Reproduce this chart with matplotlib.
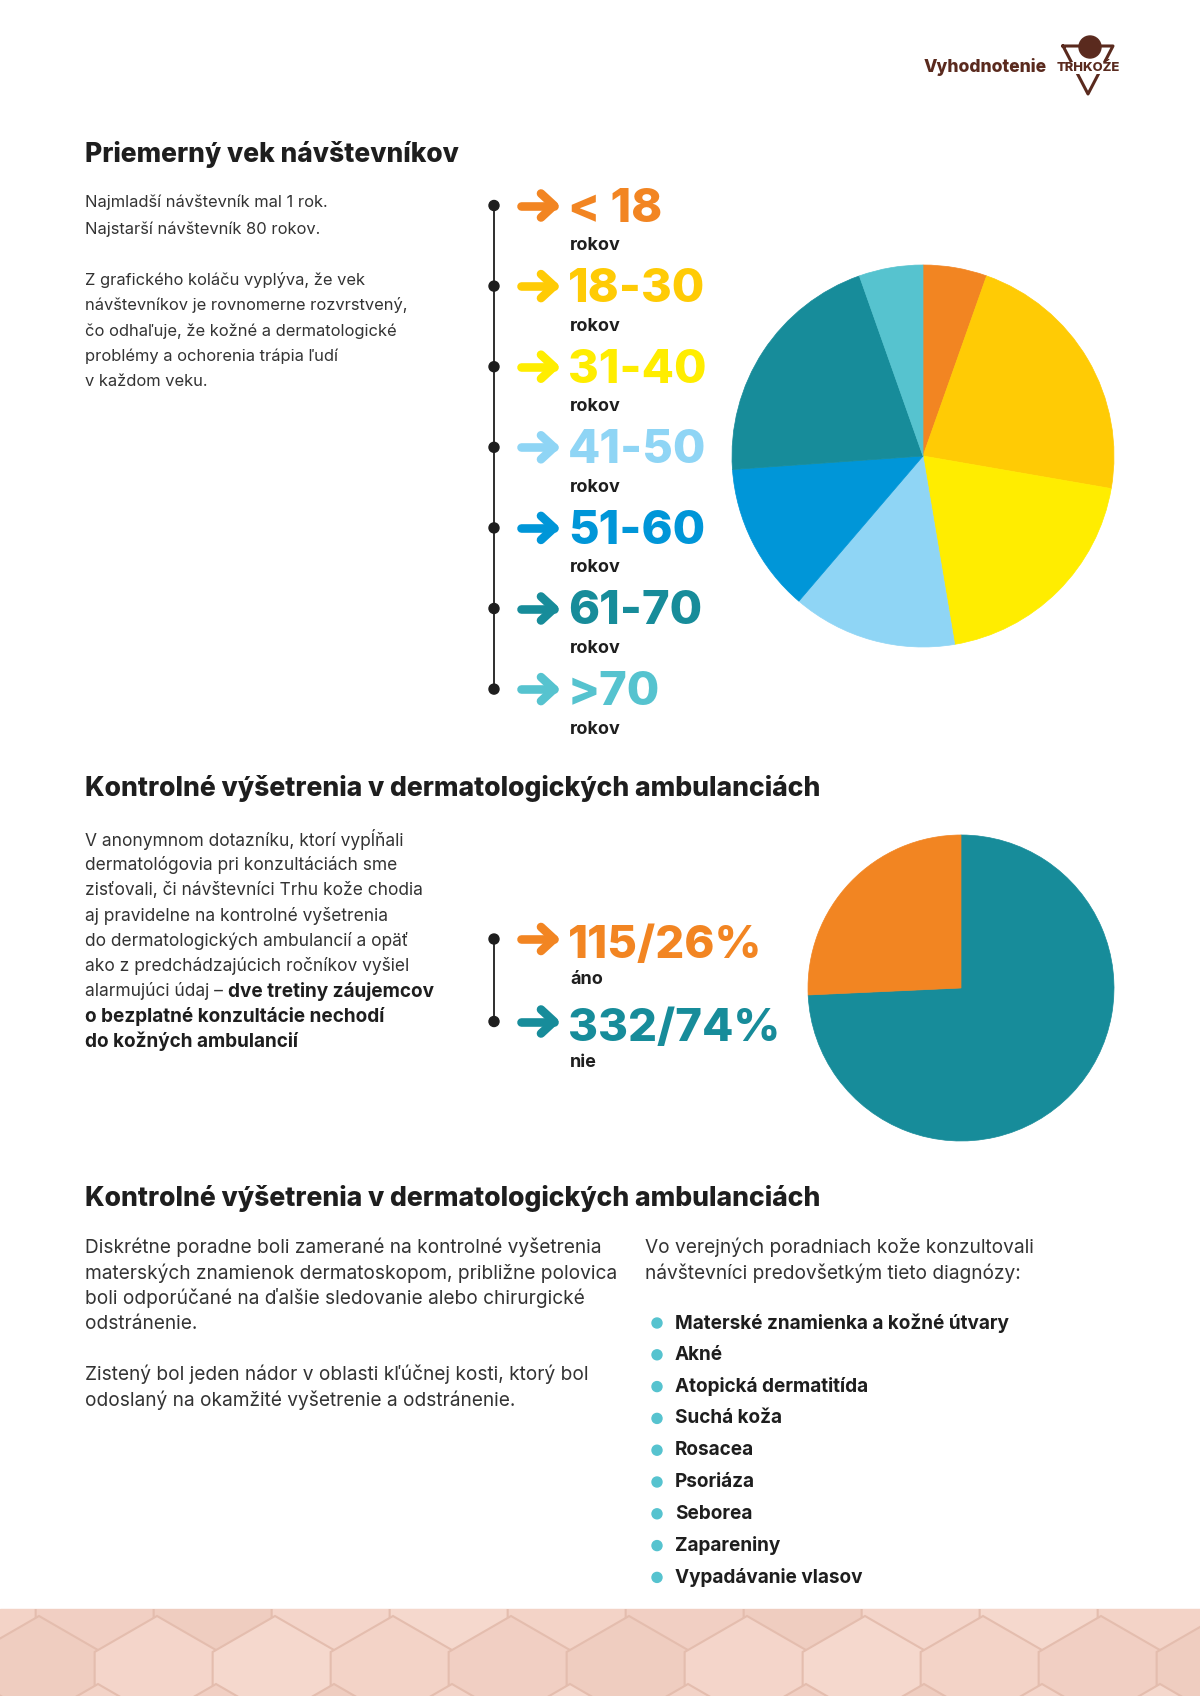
import matplotlib
matplotlib.use("Agg")
from matplotlib import pyplot as plt
from matplotlib.patches import Circle, Rectangle, RegularPolygon
import numpy as np

plt.rcParams['font.family'] = ['Inter', 'DejaVu Sans']

# age of visitors (pie 1), shares in %
age_labels = ["< 18", "18-30", "31-40", "41-50", "51-60", "61-70", ">70"]
age_shares = [5.4, 22.3, 19.6, 13.9, 12.6, 20.7, 5.4]
age_colors = ["#F28522", "#FFCB05", "#FFED00", "#8FD5F5", "#0096D8", "#178C9A", "#56C3CF"]

# control visits at dermatologist (pie 2)
visit_labels = ["áno", "nie"]
visit_counts = [115, 332]
visit_percents = [26, 74]
visit_colors = ["#F28522", "#178C9A"]

diagnoses = ["Materské znamienka a kožné útvary", "Akné", "Atopická dermatitída",
             "Suchá koža", "Rosacea", "Psoriáza", "Seborea", "Zapareniny",
             "Vypadávanie vlasov"]

W, H = 1200, 1696
DARK = "#1e1e1e"
BODY = "#333333"
BROWN = "#5a2a1e"

fig = plt.figure(figsize=(W / 100, H / 100), dpi=100)
ax = fig.add_axes([0, 0, 1, 1])
ax.set_xlim(0, W)
ax.set_ylim(H, 0)
ax.axis('off')


def pt(px):
    return px * 0.72


def txt(x, y, s, size, weight='normal', color=BODY, **kw):
    return ax.text(x, y, s, fontsize=pt(size), fontweight=weight, color=color,
                   va='center', ha=kw.pop('ha', 'left'), zorder=5, **kw)


def arrow(x, y, color):
    kw = dict(color=color, lw=6.2, solid_capstyle='round', solid_joinstyle='round')
    ax.plot([x, x + 33], [y, y], **kw)
    ax.plot([x + 20, x + 33, x + 20], [y - 12, y, y + 12], **kw)


def pie_axes(cx, cy, r):
    return fig.add_axes([(cx - r) / W, 1 - (cy + r) / H, 2 * r / W, 2 * r / H])


# header
txt(1047, 67, "Vyhodnotenie", 17.5, 'heavy', BROWN, ha='right')
ax.plot([1063, 1113, 1088, 1063], [46, 46, 94, 46], color=BROWN, lw=2.2)
ax.add_patch(Circle((1090, 47), 11, color=BROWN, zorder=4))
txt(1088, 68, "TRHKOŽE", 13, 'heavy', BROWN, ha='center',
    bbox=dict(fc='white', ec='none', pad=0.3))

# section 1
txt(85, 154, "Priemerný vek návštevníkov", 26.4, 'heavy', DARK)
lines1 = [(202, "Najmladší návštevník mal 1 rok."),
          (229, "Najstarší návštevník 80 rokov."),
          (280, "Z grafického koláču vyplýva, že vek"),
          (305, "návštevníkov je rovnomerne rozvrstvený,"),
          (331, "čo odhaľuje, že kožné a dermatologické"),
          (356, "problémy a ochorenia trápia ľudí"),
          (381, "v každom veku.")]
for y, s in lines1:
    txt(85, y, s, 16.5)

# timeline for age groups
dot_x = 494
ys = 205.5 + 80.6 * np.arange(len(age_labels))
ax.plot([dot_x, dot_x], [ys[0], ys[-1]], color=DARK, lw=1.3)
for y, lab, c in zip(ys, age_labels, age_colors):
    ax.add_patch(Circle((dot_x, y), 5, color=DARK))
    arrow(521, y, c)
    txt(568, y + 4, lab, 47, 'heavy', c)
    txt(570, y + 40, "rokov", 18, 'bold', DARK)

ax1 = pie_axes(923, 456, 191)
wedges, _ = ax1.pie(age_shares, colors=age_colors, startangle=90, counterclock=False)
for w in wedges:
    w.set_edgecolor(w.get_facecolor())
    w.set_linewidth(0.5)
ax1.set_xlim(-1, 1)
ax1.set_ylim(-1, 1)
ax1.set_aspect('equal')
ax1.axis('off')

# section 2
txt(85, 789, "Kontrolné výšetrenia v dermatologických ambulanciách", 26.5, 'heavy', DARK)
lines2 = ["V anonymnom dotazníku, ktorí vypĺňali",
          "dermatológovia pri konzultáciách sme",
          "zisťovali, či návštevníci Trhu kože chodia",
          "aj pravidelne na kontrolné vyšetrenia",
          "do dermatologických ambulancií a opäť",
          "ako z predchádzajúcich ročníkov vyšiel"]
y0 = 840
for i, s in enumerate(lines2):
    txt(85, y0 + 25.2 * i, s, 17.4)
yb = y0 + 25.2 * 6
t = txt(85, yb, "alarmujúci údaj – ", 17.4)
fig.canvas.draw()
wpx = t.get_window_extent(renderer=fig.canvas.get_renderer()).width
txt(85 + wpx, yb, "dve tretiny záujemcov", 19, 'bold', DARK)
txt(85, yb + 25.2, "o bezplatné konzultácie nechodí", 19, 'bold', DARK)
txt(85, yb + 50.4, "do kožných ambulancií", 19, 'bold', DARK)

ys2 = [939, 1021.5]
ax.plot([dot_x, dot_x], ys2, color=DARK, lw=1.3)
for y, lab, n, p, c in zip(ys2, visit_labels, visit_counts, visit_percents, visit_colors):
    ax.add_patch(Circle((dot_x, y), 5, color=DARK))
    arrow(521, y, c)
    txt(568, y + 7, f"{n}/{p}%", 45.5, 'heavy', c)
    txt(570, y + 41, lab, 18, 'bold', DARK)

ax2 = pie_axes(961, 988, 153)
wedges, _ = ax2.pie(visit_counts[::-1], colors=visit_colors[::-1], startangle=90,
                    counterclock=False)
for w in wedges:
    w.set_edgecolor(w.get_facecolor())
    w.set_linewidth(0.5)
ax2.set_xlim(-1, 1)
ax2.set_ylim(-1, 1)
ax2.set_aspect('equal')
ax2.axis('off')

# section 3
txt(85, 1198, "Kontrolné výšetrenia v dermatologických ambulanciách", 26.5, 'heavy', DARK)
lines3 = [(1247.5, "Diskrétne poradne boli zamerané na kontrolné vyšetrenia"),
          (1273, "materských znamienok dermatoskopom, približne polovica"),
          (1298.5, "boli odporúčané na ďalšie sledovanie alebo chirurgické"),
          (1324, "odstránenie."),
          (1374, "Zistený bol jeden nádor v oblasti kľúčnej kosti, ktorý bol"),
          (1400, "odoslaný na okamžité vyšetrenie a odstránenie.")]
for y, s in lines3:
    txt(85, y, s, 19.1)

txt(645, 1247.5, "Vo verejných poradniach kože konzultovali", 19.1)
txt(645, 1273, "návštevníci predovšetkým tieto diagnózy:", 19.1)
for i, d in enumerate(diagnoses):
    y = 1323 + 31.8 * i
    ax.add_patch(Circle((657, y), 5, color="#56C3CF"))
    txt(675, y, d, 19, 'bold', DARK)

# bottom decorative band
band = Rectangle((0, 1609), W, H - 1609, color="#F2D1C5", zorder=1)
ax.add_patch(band)
shades = ["#F3D3C7", "#EFCDC0", "#F5D8CD", "#F1CFC3", "#F4D5CA"]
k = 0
for row in range(3):
    for col in range(12):
        cx = col * 118 + (59 if row % 2 else 0) - 20
        cy = 1620 + row * 68
        hx = RegularPolygon((cx, cy), 6, radius=72, orientation=0,
                            fc=shades[k % len(shades)], ec="#E4BDAE", lw=1.5, zorder=2)
        ax.add_patch(hx)
        hx.set_clip_path(band)
        k += 3

fig.savefig("out.png", dpi=100)
